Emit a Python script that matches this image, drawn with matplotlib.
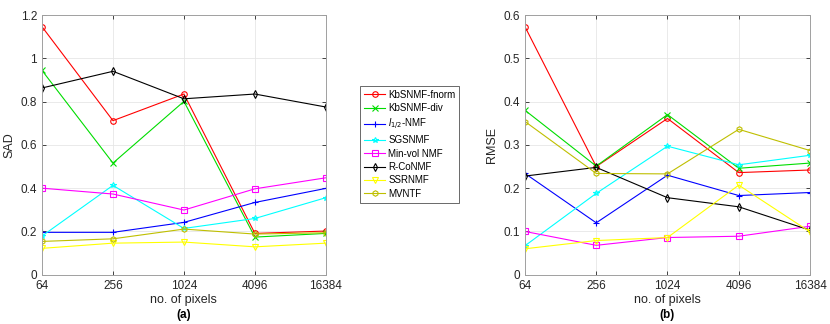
import numpy as np
import matplotlib.pyplot as plt

plt.rcParams['font.family'] = ['Liberation Sans', 'DejaVu Sans']
plt.rcParams['mathtext.fontset'] = 'custom'
plt.rcParams['mathtext.it'] = 'Liberation Sans:italic'

pixels = ['64', '256', '1024', '4096', '16384']
methods = ['KbSNMF-fnorm', 'KbSNMF-div', '$l_{1/2}$-NMF', 'SGSNMF',
           'Min-vol NMF', 'R-CoNMF', 'SSRNMF', 'MVNTF']

sad_fnorm = [1.146, 0.712, 0.835, 0.191, 0.202]
sad_div = [0.944, 0.516, 0.801, 0.174, 0.191]
sad_l12 = [0.196, 0.196, 0.242, 0.334, 0.399]
sad_sgs = [0.179, 0.413, 0.214, 0.260, 0.356]
sad_minvol = [0.400, 0.373, 0.299, 0.397, 0.448]
sad_rco = [0.863, 0.940, 0.813, 0.835, 0.775]
sad_ssr = [0.122, 0.146, 0.151, 0.129, 0.146]
sad_mvntf = [0.154, 0.166, 0.211, 0.188, 0.194]

rmse_fnorm = [0.573, 0.250, 0.361, 0.236, 0.242]
rmse_div = [0.380, 0.251, 0.370, 0.246, 0.258]
rmse_l12 = [0.234, 0.120, 0.230, 0.183, 0.190]
rmse_sgs = [0.067, 0.188, 0.297, 0.254, 0.276]
rmse_minvol = [0.100, 0.068, 0.086, 0.089, 0.112]
rmse_rco = [0.228, 0.248, 0.178, 0.157, 0.103]
rmse_ssr = [0.060, 0.079, 0.086, 0.207, 0.099]
rmse_mvntf = [0.354, 0.234, 0.233, 0.336, 0.287]

sad = [sad_fnorm, sad_div, sad_l12, sad_sgs, sad_minvol, sad_rco, sad_ssr, sad_mvntf]
rmse = [rmse_fnorm, rmse_div, rmse_l12, rmse_sgs, rmse_minvol, rmse_rco, rmse_ssr, rmse_mvntf]

colors = ['#ff0000', '#00dd00', '#0000ff', '#00ffff', '#ff00ff', '#000000', '#ffff00', '#bfbf00']
markers = ['o', 'x', '+', '*', 's', 'd', 'v', 'h']

fig = plt.figure(figsize=(8.3, 3.24), dpi=100)
ax1 = fig.add_axes([0.0506, 0.152, 0.342, 0.8016])
ax2 = fig.add_axes([0.6325, 0.152, 0.3434, 0.8016])

x = np.arange(len(pixels))


def draw(ax, data, ylabel, ymax, yticks, tag):
    for i, vals in enumerate(data):
        ax.plot(x, vals, color=colors[i], marker=markers[i], lw=0.8,
                markersize=4, markerfacecolor='none', markeredgewidth=0.8,
                label=methods[i])
    ax.set_xlim(0, 4)
    ax.set_ylim(0, ymax)
    ax.set_xticks(x)
    ax.set_xticklabels(pixels)
    ax.set_yticks(yticks)
    ax.set_yticklabels(['0' if t == 0 else ('%g' % t) for t in yticks])
    ax.grid(True, color='#e6e6e6', lw=0.6)
    ax.set_axisbelow(True)
    for s in ax.spines.values():
        s.set_color('#a0a0a0')
        s.set_linewidth(0.7)
    ax.tick_params(labelsize=8.5, colors='#262626', length=3, width=0.6,
                   direction='in')
    ax.tick_params(axis='both', which='both', top=True, right=True)
    ax.set_ylabel(ylabel, fontsize=9, color='#262626', labelpad=4)
    ax.set_xlabel('no. of pixels', fontsize=9, color='#262626', labelpad=2)
    pos = ax.get_position()
    fig.text((pos.x0 + pos.x1) / 2, 1 - 315 / 324, tag, ha='center',
             va='center', fontsize=8.5, fontweight='bold')


draw(ax1, sad, 'SAD', 1.2, [0, 0.2, 0.4, 0.6, 0.8, 1.0, 1.2], '(a)')
draw(ax2, rmse, 'RMSE', 0.6, [0, 0.1, 0.2, 0.3, 0.4, 0.5, 0.6], '(b)')

handles, labels = ax1.get_legend_handles_labels()
leg = fig.legend(handles, labels, loc='upper left',
                 bbox_to_anchor=(360 / 830, 1 - 86 / 324), fontsize=7,
                 frameon=True, fancybox=False, borderpad=0.4,
                 labelspacing=0.35, handlelength=2.2, handletextpad=0.3,
                 borderaxespad=0)
leg.get_frame().set_edgecolor('#262626')
leg.get_frame().set_linewidth(0.6)

fig.savefig('out.png', dpi=100)
